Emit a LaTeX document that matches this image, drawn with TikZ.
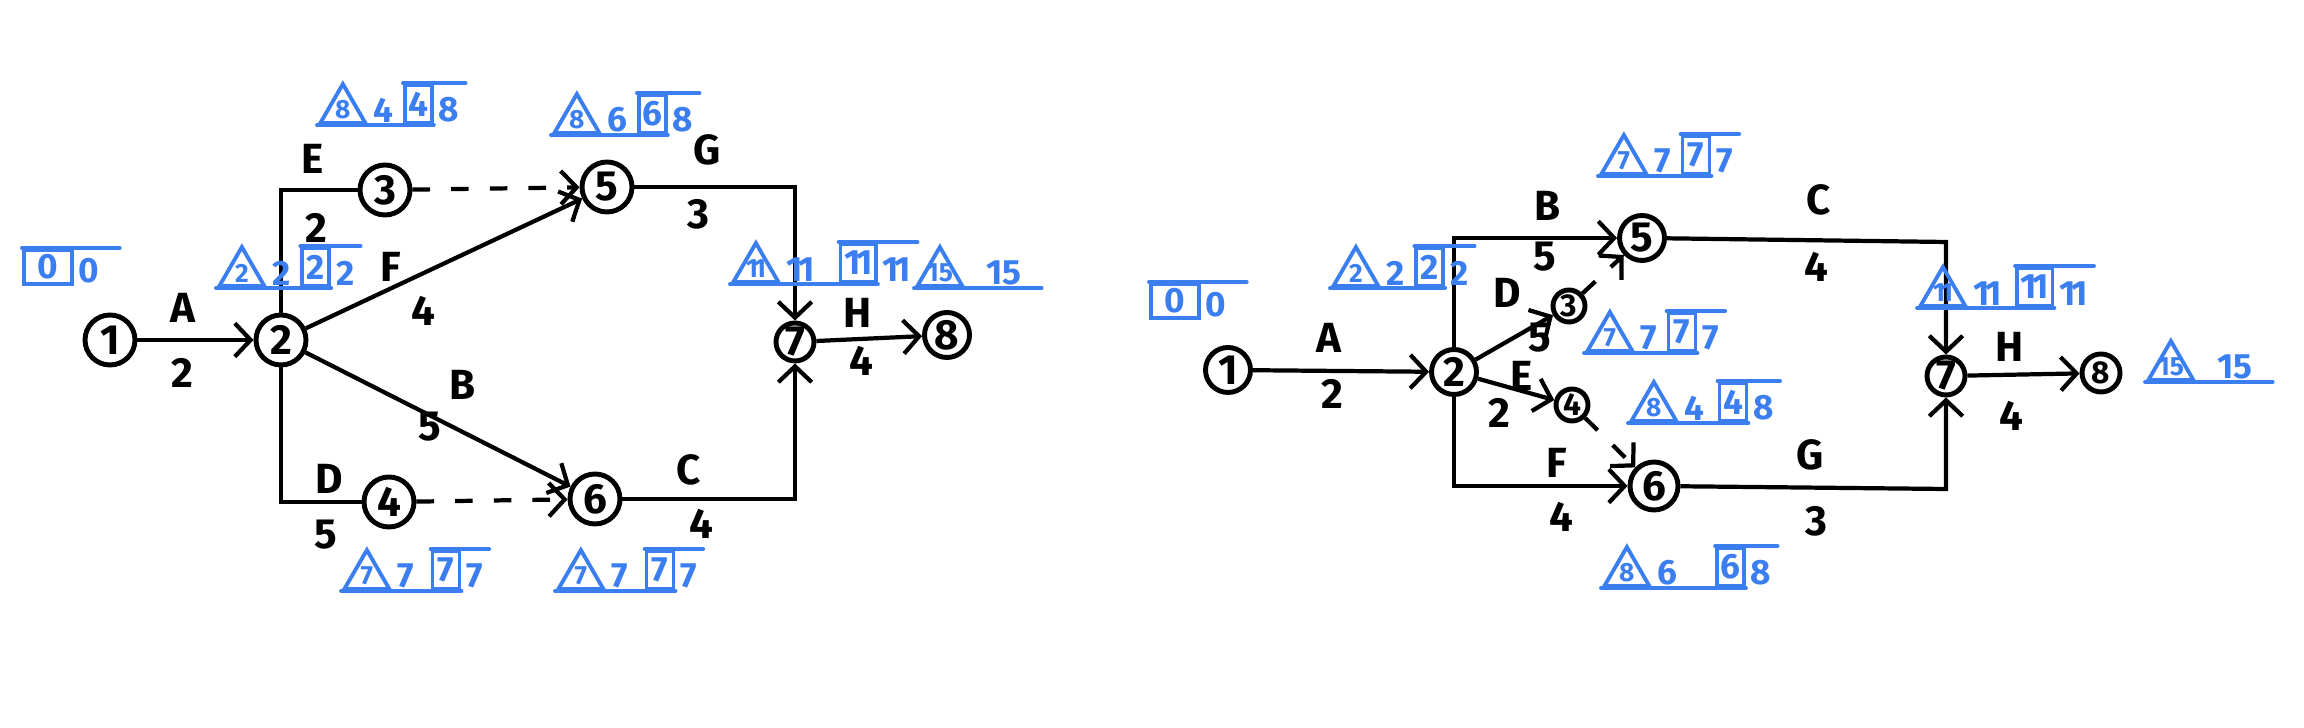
\documentclass[tikz,border=0pt]{standalone}
\usepackage{fontspec}
\setmainfont{Fira Sans}
\usepackage{tikz}
\usetikzlibrary{arrows.meta,positioning,shapes.geometric}
\definecolor{pen}{HTML}{3B7EF0}

% [gap] name, corner, triangle, early time, boxed time, late time
\newcommand{\tally}[7][2pt]{%
  \path (#3) node (#2t) [tri, anchor=corner 2] {#4};
  \path ([xshift=0.5pt]#2t.corner 3) node (#2e) [note, anchor=south west] {#5};
  \path ([xshift=#1]#2e.south east) node (#2b) [cell, anchor=south west] {#6};
  \path ([xshift=0.6pt]#2b.south east) node (#2f) [note, anchor=south west] {#7};
  \draw[ink] (#2t.corner 2) -- (#2b.south east);
  \draw[ink] (#2b.north west) -- ([xshift=1pt]#2b.north -| #2f.east);
}
\newcommand{\tallyend}[4]{%
  \path (#2) node (#1t) [tri, anchor=corner 2] {#3};
  \path ([xshift=5pt]#1t.corner 3) node (#1e) [note, anchor=south west] {#4};
  \draw[ink] (#1t.corner 2) -- ([xshift=5pt]#1e.south east);
}
\newcommand{\tallyzero}[2]{%
  \path (#2) node (#1b) [cell, anchor=south west, minimum width=0.48cm, minimum height=0.34cm] {0};
  \path ([xshift=0.6pt]#1b.south east) node (#1f) [note, anchor=south west] {0};
  \draw[ink] (#1b.north west) -- ([xshift=5pt]#1b.north -| #1f.east);
}
\newcommand{\eleven}{1\kern-1.2pt1}

\begin{document}
\begin{tikzpicture}[
  ev/.style={circle, draw, line width=1.4pt, inner sep=0pt, minimum size=0.5cm, font=\bfseries\fontsize{12}{14}\selectfont},
  act/.style={line width=1.2pt},
  dummy/.style={line width=1.2pt, dash pattern=on 5pt off 6pt},
  lbl/.style={font=\bfseries\fontsize{12}{14}\selectfont},
  tri/.style={regular polygon, regular polygon sides=3, draw=pen, line width=1.1pt, minimum size=0.52cm, inner sep=-2pt, text=pen, font=\bfseries\fontsize{7.5}{8}\selectfont},
  note/.style={text=pen, inner sep=0.6pt, font=\bfseries\fontsize{10}{12}\selectfont},
  cell/.style={draw=pen, line width=1.1pt, text=pen, minimum width=0.27cm, minimum height=0.38cm, inner sep=1pt, font=\bfseries\fontsize{10}{12}\selectfont},
  ink/.style={draw=pen, line width=1.1pt, line cap=round},
  >={Straight Barb[length=4.5pt,width=9.5pt]}
]
\useasboundingbox (0,0) rectangle (23.04,7.28);

% first network
\path (1.10,3.88) node (l1) [ev] {1}
      (2.81,3.88) node (l2) [ev] {2}
      (3.85,5.38) node (l3) [ev] {3}
      (3.89,2.26) node (l4) [ev] {4}
      (6.07,5.41) node (l5) [ev] {5}
      (5.95,2.29) node (l6) [ev] {6}
      (7.95,3.86) node (l7) [ev, minimum size=0.38cm] {7}
      (9.47,3.93) node (l8) [ev, minimum size=0.45cm] {8};
\draw[act,->] (l1) -- (l2);
\draw[act] (l2) |- (l3);
\draw[act,->] (l2) -- (l5);
\draw[act,->] (l2) -- (l6);
\draw[act] (l2) |- (l4);
\draw[dummy,->] (l3) -- (l5);
\draw[dummy,->] (l4) -- (l6);
\draw[act,->] (l5) -| (l7);
\draw[act,->] (l6) -| (l7);
\draw[act,->] (l7) -- (l8);

\path (1.83,4.20) node (lA) [lbl] {A}
      (1.82,3.55) node (lAt) [lbl] {2}
      (3.13,5.69) node (lE) [lbl] {E}
      (3.16,5.00) node (lEt) [lbl] {2}
      (3.91,4.61) node (lF) [lbl] {F}
      (4.23,4.17) node (lFt) [lbl] {4}
      (4.63,3.43) node (lB) [lbl] {B}
      (4.30,3.01) node (lBt) [lbl] {5}
      (3.29,2.49) node (lD) [lbl] {D}
      (3.26,1.93) node (lDt) [lbl] {5}
      (7.07,5.78) node (lG) [lbl] {G}
      (6.98,5.14) node (lGt) [lbl] {3}
      (6.89,2.58) node (lC) [lbl] {C}
      (7.01,2.04) node (lCt) [lbl] {4}
      (8.58,4.15) node (lH) [lbl] {H}
      (8.61,3.67) node (lHt) [lbl] {4};

\tallyzero{lz}{0.22,4.42}
\tally{ls2}{2.16,4.40}{2}{2}{2}{2}
\tally{ls3}{3.17,6.03}{8}{4}{4}{8}
\tally{ls5}{5.51,5.93}{8}{6}{6}{8}
\tally[4pt]{ls4}{3.41,1.37}{7}{7}{7}{7}
\tally[4pt]{ls6}{5.55,1.37}{7}{7}{7}{7}
\tally[6pt]{ls7}{7.30,4.44}{\eleven}{\eleven}{\eleven}{\eleven}
\tallyend{ls8}{9.14,4.40}{15}{15}

% second network
\path (12.28,3.58) node (r1) [ev, minimum size=0.45cm] {1}
      (14.54,3.56) node (r2) [ev, minimum size=0.45cm] {2}
      (15.69,4.22) node (r3) [ev, minimum size=0.32cm, font=\bfseries\fontsize{9}{10}\selectfont] {3}
      (15.72,3.23) node (r4) [ev, minimum size=0.32cm, font=\bfseries\fontsize{9}{10}\selectfont] {4}
      (16.42,4.90) node (r5) [ev, minimum size=0.45cm] {5}
      (16.54,2.42) node (r6) [ev, minimum size=0.48cm] {6}
      (19.46,3.52) node (r7) [ev, minimum size=0.38cm] {7}
      (21.01,3.55) node (r8) [ev, minimum size=0.38cm, font=\bfseries\fontsize{9}{10}\selectfont] {8};
\coordinate (rc) at (19.46,4.86);
\coordinate (rg) at (19.46,2.39);
\draw[act,->] (r1) -- (r2);
\draw[act,->] (r2) |- (r5);
\draw[act,->] (r2) -- (r3);
\draw[act,->] (r2) -- (r4);
\draw[act,->] (r2) |- (r6);
\draw[dummy,->] (r3) -- (r5);
\draw[dummy,->] (r4) -- (r6);
\draw[act,->] (r5) -- (rc) -- (r7);
\draw[act,->] (r6) -- (rg) -- (r7);
\draw[act,->] (r7) -- (r8);

\path (13.29,3.90) node (rA) [lbl] {A}
      (13.32,3.34) node (rAt) [lbl] {2}
      (15.47,5.22) node (rB) [lbl] {B}
      (15.45,4.71) node (rBt) [lbl] {5}
      (15.07,4.35) node (rD) [lbl] {D}
      (15.40,3.90) node (rDt) [lbl] {5}
      (15.22,3.52) node (rE) [lbl] {E}
      (14.99,3.15) node (rEt) [lbl] {2}
      (15.57,2.65) node (rF) [lbl] {F}
      (15.61,2.11) node (rFt) [lbl] {4}
      (18.19,5.28) node (rC) [lbl] {C}
      (18.16,4.61) node (rCt) [lbl] {4}
      (18.10,2.73) node (rG) [lbl] {G}
      (18.16,2.07) node (rGt) [lbl] {3}
      (20.10,3.81) node (rH) [lbl] {H}
      (20.11,3.12) node (rHt) [lbl] {4};

\tallyzero{rz}{11.49,4.08}
\tally{rs2}{13.30,4.40}{2}{2}{2}{2}
\tally{rs5}{15.98,5.52}{7}{7}{7}{7}
\tally{rs3}{15.84,3.75}{7}{7}{7}{7}
\tally[3pt]{rs4}{16.28,3.05}{8}{4}{4}{8}
\tally[10pt]{rs6}{16.01,1.40}{8}{6}{6}{8}
\tally[3pt]{rs7}{19.17,4.20}{\eleven}{\eleven}{\eleven}{\eleven}
\tallyend{rs8}{21.45,3.46}{15}{15}
\end{tikzpicture}
\end{document}
